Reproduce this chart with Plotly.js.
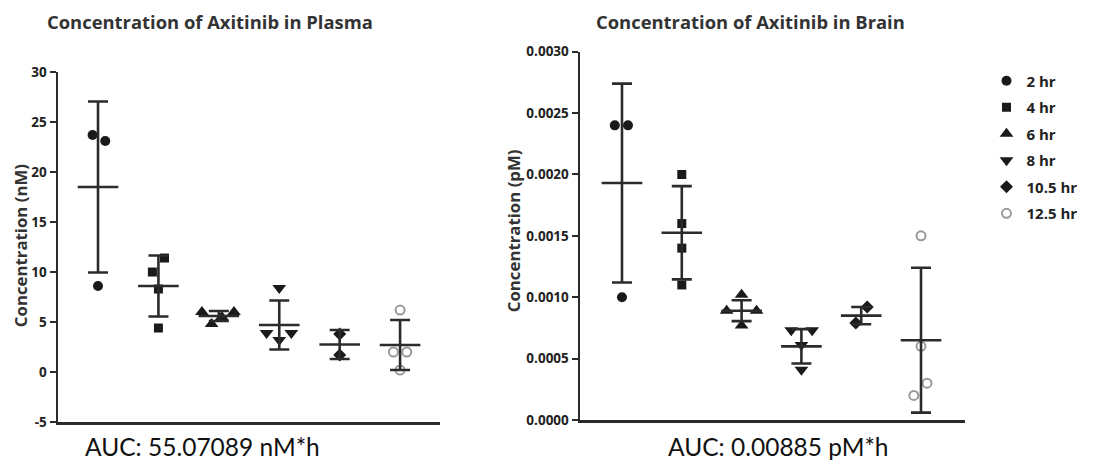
<!DOCTYPE html>
<html>
<head>
<meta charset="utf-8">
<script src="https://cdn.plot.ly/plotly-3.0.1.min.js"></script>
<style>html,body{margin:0;padding:0;background:#fff;}#chart{width:1101px;height:468px;}</style>
</head>
<body>
<div id="chart"></div>
<script>
// ---- data ----
var groups = ['2 hr', '4 hr', '6 hr', '8 hr', '10.5 hr', '12.5 hr'];

// Plasma individual values (nM)
var plasma2  = [23.7, 23.1, 8.6];
var plasma4  = [11.4, 10.0, 8.3, 4.4];
var plasma6  = [6.0, 6.0, 5.5, 4.8];
var plasma8  = [8.4, 3.9, 3.9, 3.2];
var plasma10 = [3.8, 1.7];
var plasma12 = [6.2, 2.0, 2.0, 0.2];
var plasmaMean = [18.5, 8.6, 5.6, 4.7, 2.75, 2.7];
var plasmaSD   = [8.55, 3.05, 0.5, 2.45, 1.45, 2.5];
var plasmaTicks = [-5, 0, 5, 10, 15, 20, 25, 30];
var plasmaTickText = ['-5', '0', '5', '10', '15', '20', '25', '30'];

// Brain individual values (pM)
var brain2  = [0.0024, 0.0024, 0.0010];
var brain4  = [0.0020, 0.0016, 0.0014, 0.0011];
var brain6  = [0.00102, 0.00089, 0.00089, 0.00077];
var brain8  = [0.00073, 0.00073, 0.00061, 0.00041];
var brain10 = [0.00092, 0.00079];
var brain12 = [0.0015, 0.0006, 0.0003, 0.0002];
var brainMean = [0.00193, 0.001525, 0.00089, 0.0006, 0.00085, 0.00065];
var brainSD   = [0.00081, 0.00038, 0.000085, 0.00014, 0.00007, 0.00059];

// horizontal scatter of points within each group (category units)
var plasmaJit = [[-0.09, 0.12, 0], [0.1, -0.1, 0, 0], [-0.28, 0.25, 0.05, -0.12], [0, -0.21, 0.2, 0], [0, 0], [0, -0.11, 0.11, 0]];
var brainJit  = [[-0.12, 0.1, 0], [0, 0, 0, 0], [0, -0.25, 0.25, 0], [-0.17, 0.18, 0, 0], [0.1, -0.09], [0, 0, 0.1, -0.12]];

var plasmaVals = [plasma2, plasma4, plasma6, plasma8, plasma10, plasma12];
var brainVals  = [brain2, brain4, brain6, brain8, brain10, brain12];

var symbols = ['circle', 'square', 'triangle-up', 'triangle-down', 'diamond', 'circle-open'];
var colors  = ['#1a1a1a', '#1a1a1a', '#1a1a1a', '#1a1a1a', '#1a1a1a', '#9a9a9a'];
var sizes   = [10, 9, 12, 12, 10, 9];

var DARK = '#2b2b2b';
var traces = [];

function pointTraces(vals, jit, xa, ya, legend) {
  vals.forEach(function (v, g) {
    traces.push({
      type: 'scatter', mode: 'markers', name: groups[g],
      x: v.map(function (_, k) { return g + jit[g][k]; }), y: v,
      xaxis: xa, yaxis: ya, showlegend: legend, legendgroup: 'g' + g,
      cliponaxis: false,
      marker: { symbol: symbols[g], size: sizes[g], color: colors[g],
                line: { color: colors[g], width: symbols[g] === 'circle-open' ? 2 : 0 } },
      hoverinfo: 'skip'
    });
  });
}
function errTrace(mean, sd, xa, ya) {
  traces.push({
    type: 'scatter', mode: 'markers',
    x: groups.map(function (_, g) { return g; }), y: mean,
    xaxis: xa, yaxis: ya, showlegend: false, cliponaxis: false,
    marker: { symbol: 'line-ew', size: 29, color: DARK, line: { color: DARK, width: 2.6 } },
    error_y: { type: 'data', array: sd, visible: true, width: 10, thickness: 2.6, color: DARK },
    hoverinfo: 'skip'
  });
}

pointTraces(plasmaVals, plasmaJit, 'x', 'y', true);
pointTraces(brainVals, brainJit, 'x2', 'y2', false);
errTrace(plasmaMean, plasmaSD, 'x', 'y');
errTrace(brainMean, brainSD, 'x2', 'y2');

var tickFont = { family: 'Open Sans', size: 13.5, weight: 700, color: '#222' };
var xBase = { showticklabels: false, ticks: '', showline: true, linecolor: DARK, linewidth: 2.8,
              showgrid: false, zeroline: false, fixedrange: true };
var yBase = { ticks: 'outside', ticklen: 6, tickwidth: 2, tickcolor: DARK, showline: true, linecolor: DARK,
              linewidth: 2.5, showgrid: false, zeroline: false, tickfont: tickFont, fixedrange: true };

var titleFont = { family: 'Open Sans, sans-serif', size: 18.4, weight: 700, color: '#333' };
var yTitleFont = { family: 'Open Sans', size: 16.8, weight: 700, color: '#333' };
var aucFont = { family: 'Lato, sans-serif', size: 24.5, color: '#111' };

var layout = {
  width: 1101, height: 468,
  margin: { l: 0, r: 0, t: 0, b: 0 },
  paper_bgcolor: '#fff', plot_bgcolor: '#fff',
  showlegend: true,
  legend: { x: 0.896, y: 0.862, xanchor: 'left', yanchor: 'top', tracegroupgap: 4,
            font: { family: 'Open Sans, sans-serif', size: 15, weight: 700, color: '#222' },
            itemwidth: 30, bgcolor: 'rgba(0,0,0,0)' },
  xaxis: Object.assign({}, xBase, { domain: [0.0527, 0.3996], range: [-0.662, 5.66], anchor: 'y' }),
  yaxis: Object.assign({}, yBase, { domain: [0.0983, 0.846], range: [-5, 30], tickmode: 'array',
                                    tickvals: plasmaTicks, ticktext: plasmaTickText, anchor: 'x' }),
  xaxis2: Object.assign({}, xBase, { domain: [0.5268, 0.8765], range: [-0.702, 5.736], anchor: 'y2' }),
  yaxis2: Object.assign({}, yBase, { domain: [0.1026, 0.8895], range: [0, 0.003], dtick: 0.0005, tick0: 0,
                                     tickformat: '.4f', anchor: 'x2' }),
  annotations: [
    { text: 'Concentration of Axitinib in Plasma', xref: 'paper', yref: 'paper', x: 0.1907, y: 0.953,
      xanchor: 'center', yanchor: 'middle', showarrow: false, font: titleFont },
    { text: 'Concentration of Axitinib in Brain', xref: 'paper', yref: 'paper', x: 0.682, y: 0.953,
      xanchor: 'center', yanchor: 'middle', showarrow: false, font: titleFont },
    { text: 'Concentration (nM)', xref: 'paper', yref: 'paper', x: 0.0182, y: 0.474, textangle: -90,
      xanchor: 'center', yanchor: 'middle', showarrow: false, font: yTitleFont },
    { text: 'Concentration (pM)', xref: 'paper', yref: 'paper', x: 0.466, y: 0.506, textangle: -90,
      xanchor: 'center', yanchor: 'middle', showarrow: false, font: yTitleFont },
    { text: 'AUC: 55.07089 nM*h', xref: 'paper', yref: 'paper', x: 0.1835, y: 0.0449,
      xanchor: 'center', yanchor: 'middle', showarrow: false, font: aucFont },
    { text: 'AUC: 0.00885 pM*h', xref: 'paper', yref: 'paper', x: 0.7075, y: 0.0449,
      xanchor: 'center', yanchor: 'middle', showarrow: false, font: aucFont }
  ]
};

Plotly.newPlot('chart', traces, layout, { displayModeBar: false, staticPlot: true });
</script>
</body>
</html>
